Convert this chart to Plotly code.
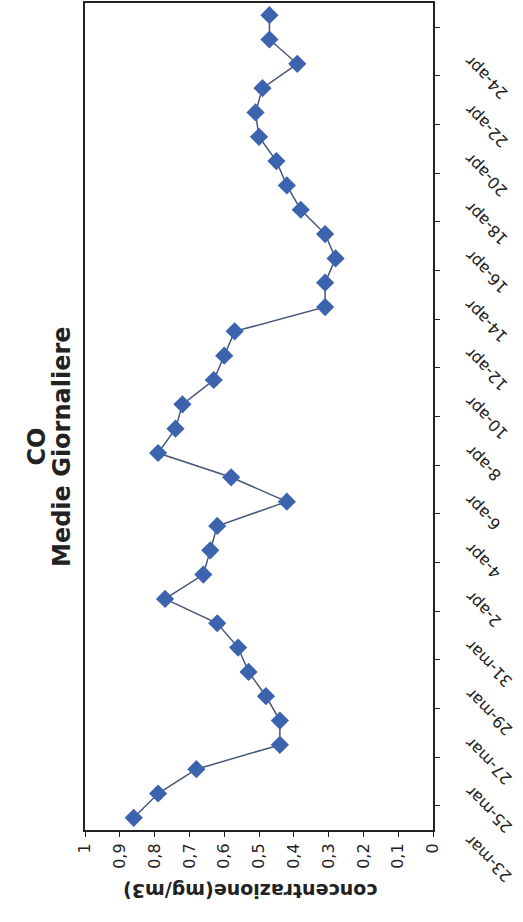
import plotly.graph_objects as go

# Daily mean CO concentrations (mg/m3), 23 March - 25 April
dates = [
    "23-mar", "24-mar", "25-mar", "26-mar", "27-mar", "28-mar", "29-mar", "30-mar", "31-mar",
    "1-apr", "2-apr", "3-apr", "4-apr", "5-apr", "6-apr", "7-apr", "8-apr", "9-apr", "10-apr",
    "11-apr", "12-apr", "13-apr", "14-apr", "15-apr", "16-apr", "17-apr", "18-apr", "19-apr",
    "20-apr", "21-apr", "22-apr", "23-apr", "24-apr", "25-apr",
]
co_values = [
    0.86, 0.79, 0.68, 0.44, 0.44, 0.48, 0.53, 0.56, 0.62,
    0.77, 0.66, 0.64, 0.62, 0.42, 0.58, 0.79, 0.74, 0.72, 0.63,
    0.60, 0.57, 0.31, 0.31, 0.28, 0.31, 0.38, 0.42, 0.45,
    0.50, 0.51, 0.49, 0.39, 0.47, 0.47,
]
value_ticks = [0, 0.1, 0.2, 0.3, 0.4, 0.5, 0.6, 0.7, 0.8, 0.9, 1]
label_step = 2

FONT = "DejaVu Sans"
INK = "#222222"

idx = list(range(len(dates)))

fig = go.Figure()
fig.add_trace(go.Scatter(
    x=co_values,
    y=idx,
    mode="lines+markers",
    line=dict(color="#46577a", width=1.5),
    marker=dict(symbol="diamond", size=14, color="#3c64ae",
                line=dict(width=0)),
    hoverinfo="skip",
    showlegend=False,
))

# Date labels every second day, rotated, to the right of the plot
for i in range(0, len(dates), label_step):
    fig.add_annotation(
        x=1, xref="paper", y=i - 0.4, yref="y",
        text=dates[i], showarrow=False, textangle=-135,
        xanchor="left", yanchor="top", xshift=25,
        font=dict(family=FONT, size=16, color=INK),
    )

# Chart title, two rotated lines
fig.add_annotation(
    x=-0.137, xref="paper", y=0.464, yref="paper",
    text="<b>CO</b>", showarrow=False, textangle=-90,
    xanchor="center", yanchor="middle",
    font=dict(family=FONT, size=24, color=INK),
)
fig.add_annotation(
    x=-0.064, xref="paper", y=0.464, yref="paper",
    text="<b>Medie Giornaliere</b>", showarrow=False, textangle=-90,
    xanchor="center", yanchor="middle",
    font=dict(family=FONT, size=24, color=INK),
)

# Value axis title (upside down)
fig.add_annotation(
    x=0.475, xref="paper", y=-0.074, yref="paper",
    text="<b>concentrazione(mg/m3)</b>", showarrow=False, textangle=180,
    xanchor="center", yanchor="middle",
    font=dict(family=FONT, size=19, color=INK),
)

fig.update_layout(
    width=523, height=922,
    margin=dict(l=85, r=90, t=1, b=92),
    paper_bgcolor="white", plot_bgcolor="white",
    separators=",.",
    xaxis=dict(
        range=[1, 0], tickvals=value_ticks, tickangle=-90,
        showgrid=False, zeroline=False,
        showline=True, linecolor=INK, linewidth=2, mirror=True,
        ticks="outside", ticklen=5, tickcolor=INK, tickwidth=1,
        tickfont=dict(family=FONT, size=16, color=INK),
    ),
    yaxis=dict(
        range=[-0.5, len(dates) - 0.5], side="right",
        tickvals=[k + 0.5 for k in range(0, len(dates) - 1, label_step)],
        showticklabels=False,
        showgrid=False, zeroline=False,
        showline=True, linecolor=INK, linewidth=2, mirror=True,
        ticks="outside", ticklen=5, tickcolor=INK, tickwidth=1,
    ),
)

fig.write_html("out.html")
